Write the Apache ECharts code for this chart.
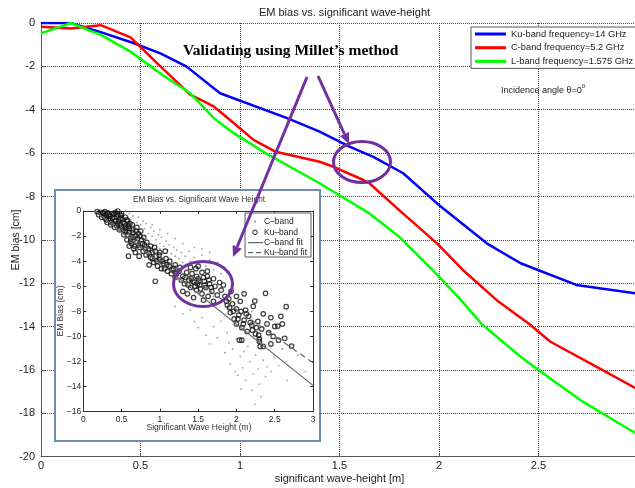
<!DOCTYPE html>
<html><head><meta charset="utf-8">
<script src="https://cdn.jsdelivr.net/npm/echarts@6/dist/echarts.min.js"></script>
<style>html,body{margin:0;padding:0;background:#fff}#c{width:635px;height:488px}</style>
</head><body><div id="c"></div>
<script>
// ---- Main chart data ----
const xTickValues = [0, 0.5, 1, 1.5, 2, 2.5, 3];
const yTickValues = [0, -2, -4, -6, -8, -10, -12, -14, -16, -18, -20];
const seriesNames = ['Ku-band frequency=14 GHz', 'C-band frequency=5.2 GHz', 'L-band frequency=1.575 GHz'];
const kuBand = [[0,0],[0.15,0],[0.3,-0.42],[0.46,-0.91],[0.6,-1.4],[0.73,-2.0],[0.9,-3.24],[1.24,-4.4],[1.4,-5.01],[1.55,-5.7],[1.67,-6.17],[1.82,-6.93],[1.99,-8.32],[2.24,-10.16],[2.41,-11.08],[2.69,-12.08],[2.99,-12.47]];
const cBand = [[0,-0.17],[0.15,-0.25],[0.3,-0.1],[0.45,-0.66],[0.6,-2.0],[0.75,-3.3],[0.87,-3.86],[0.95,-4.47],[1.07,-5.4],[1.18,-5.94],[1.4,-6.4],[1.47,-6.63],[1.62,-7.24],[1.65,-7.39],[1.8,-8.63],[1.99,-10.16],[2.12,-11.39],[2.29,-12.78],[2.46,-13.93],[2.56,-14.7],[2.79,-15.85],[2.99,-16.85]];
const lBand = [[0,-0.48],[0.15,0],[0.3,-0.55],[0.45,-1.32],[0.61,-2.4],[0.75,-3.24],[0.87,-4.4],[0.97,-5.09],[1.13,-6.01],[1.4,-7.39],[1.65,-8.78],[1.8,-9.86],[2.0,-11.7],[2.11,-12.78],[2.22,-13.93],[2.41,-15.39],[2.5,-16.0],[2.71,-17.39],[2.99,-18.93]];

// ---- Inset chart data ----
const insetXTicks = [0, 0.5, 1, 1.5, 2, 2.5, 3];
const insetYTicks = [0, -2, -4, -6, -8, -10, -12, -14, -16];
const insetNames = ['C\u2013band', 'Ku\u2013band', 'C\u2013band fit', 'Ku\u2013band fit'];
const kuScatter = [
[0.18,-0.05],[0.22,-0.1],[0.25,-0.2],[0.28,-0.05],[0.3,-0.3],[0.32,-0.15],[0.35,-0.4],[0.33,-0.6],[0.38,-0.2],[0.4,-0.5],[0.42,-0.8],[0.37,-0.9],[0.45,-0.3],[0.45,-1.0],[0.48,-0.6],[0.5,-1.3],[0.47,-1.5],[0.52,-0.9],[0.55,-0.5],[0.42,-0.1],[0.27,-0.4],[0.3,-0.7],[0.36,-1.1],[0.41,-1.3],[0.5,-0.2],[0.55,-1.2],[0.58,-0.8],[0.45,0],
[0.2,-0.3],[0.24,-0.5],[0.26,-0.15],[0.29,-0.55],[0.31,-0.9],[0.34,-0.3],[0.35,-0.75],[0.38,-0.55],[0.39,-1.0],[0.4,-0.25],[0.43,-0.45],[0.44,-1.2],[0.46,-0.8],[0.48,-1.1],[0.49,-0.35],[0.51,-0.65],[0.52,-1.5],[0.54,-1.0],[0.56,-1.4],[0.57,-0.7],
[0.55,-1.6],[0.58,-1.9],[0.6,-1.4],[0.62,-2.2],[0.65,-1.7],[0.63,-2.6],[0.68,-2.0],[0.7,-2.5],[0.66,-3.0],[0.72,-1.8],[0.74,-2.9],[0.76,-2.3],[0.78,-3.2],[0.6,-2.8],[0.57,-2.3],[0.53,-1.9],[0.7,-1.3],[0.75,-1.6],[0.8,-2.7],[0.82,-3.5],[0.68,-3.3],[0.64,-1.1],[0.59,-1.2],[0.73,-3.6],[0.59,-3.6],[0.94,-5.6],
[0.6,-1.7],[0.61,-1.0],[0.62,-2.4],[0.64,-1.5],[0.65,-2.1],[0.67,-2.8],[0.69,-1.6],[0.71,-2.2],[0.72,-2.7],[0.74,-2.0],[0.77,-2.6],[0.79,-2.1],[0.81,-3.0],[0.83,-2.5],[0.86,-3.4],[0.88,-2.8],
[0.85,-3.0],[0.88,-3.7],[0.9,-3.3],[0.92,-4.1],[0.95,-3.6],[0.97,-4.4],[1.0,-3.9],[1.02,-4.6],[1.05,-4.2],[1.08,-3.8],[1.1,-4.8],[1.12,-4.4],[1.15,-5.0],[1.18,-4.6],[0.86,-4.3],[0.93,-2.9],[1.0,-3.3],[1.2,-5.3],[1.07,-3.2],
[0.9,-3.8],[0.94,-3.2],[0.96,-4.0],[0.99,-3.5],[1.03,-4.0],[1.06,-4.6],[1.09,-4.3],[1.13,-4.0],[1.16,-4.7],[1.2,-4.3],[1.22,-5.0],[1.26,-4.5],
[1.25,-4.8],[1.3,-5.2],[1.32,-5.8],[1.35,-4.9],[1.38,-5.5],[1.4,-6.1],[1.42,-5.0],[1.45,-5.7],[1.47,-4.6],[1.48,-6.3],[1.5,-5.4],[1.52,-5.9],[1.55,-4.9],[1.55,-6.6],[1.58,-5.6],[1.6,-6.1],[1.62,-5.2],[1.63,-6.8],[1.65,-5.8],[1.68,-6.4],[1.7,-5.4],[1.72,-6.0],[1.75,-6.7],[1.78,-5.7],[1.8,-6.3],[1.83,-5.9],[1.3,-6.4],[1.36,-6.6],[1.44,-6.9],[1.57,-7.1],[1.28,-5.5],[1.5,-4.4],[1.62,-4.8],[1.4,-4.5],[1.7,-7.2],[1.48,-5.2],
[1.33,-5.3],[1.37,-5.9],[1.41,-5.4],[1.46,-6.0],[1.51,-5.6],[1.53,-6.2],[1.57,-5.3],[1.59,-5.9],[1.64,-5.5],[1.67,-6.1],[1.43,-5.6],[1.49,-5.8],
[1.85,-6.8],[1.88,-7.5],[1.9,-7.0],[1.92,-8.1],[1.95,-7.4],[1.97,-8.6],[2.0,-7.8],[2.0,-9.0],[2.03,-8.3],[2.05,-7.2],[2.07,-9.3],[2.1,-8.7],[2.12,-7.9],[2.14,-9.6],[2.16,-8.4],[2.2,-9.1],[2.22,-7.6],[2.24,-7.18],[2.25,-9.8],[2.28,-8.8],[2.3,-10.2],[2.31,-10.8],[2.04,-10.3],[2.07,-10.3],[2.33,-9.4],[2.35,-8.2],[2.38,-6.56],[2.0,-6.8],[2.1,-6.6],[1.93,-6.4],
[1.87,-7.2],[1.91,-7.7],[1.96,-8.0],[2.02,-8.6],[2.06,-8.0],[2.09,-9.0],[2.13,-8.2],[2.18,-8.9],[2.21,-9.5],[2.26,-9.3],[2.29,-9.9],
[2.4,-9.0],[2.42,-9.7],[2.45,-8.5],[2.48,-10.0],[2.5,-9.2],[2.54,-9.17],[2.55,-10.3],[2.6,-9.0],[2.63,-10.15],[2.65,-7.63],[2.72,-10.77],[2.58,-8.4],[2.45,-10.6],[2.35,-10.8],[2.3,-10.4]
];
const cScatter = [
[0.3,0],[0.4,-0.1],[0.5,-0.3],[0.55,0.0],[0.6,-0.2],[0.62,-0.7],[0.65,-0.4],[0.7,-0.9],[0.72,-0.5],[0.75,-1.1],[0.78,-0.8],[0.8,-1.4],[0.82,-1.0],[0.85,-1.8],[0.88,-1.3],[0.9,-2.0],[0.92,-1.6],[0.95,-2.3],[0.98,-1.9],[1.0,-2.6],[1.02,-2.1],[1.05,-2.8],[1.08,-2.4],[1.1,-3.1],[1.12,-2.7],[1.15,-3.4],[1.18,-2.9],[1.2,-3.6],[1.22,-3.1],[1.25,-3.8],[1.28,-3.3],[1.3,-4.1],[1.33,-3.6],[1.35,-4.3],[1.38,-3.2],[1.4,-4.0],[1.45,-3.7],[1.5,-4.2],[1.55,-3.5],[1.6,-4.4],[1.65,-3.9],[1.7,-4.7],[1.75,-4.1],[1.8,-5.0],[1.85,-4.5],[1.45,-2.9],[1.3,-2.6],[1.2,-2.2],[1.55,-3.0],[1.65,-3.3],[0.9,-1.1],[1.0,-1.5],[1.1,-1.8],
[0.5,-1.5],[0.7,-2.2],[0.9,-3.0],[1.1,-3.9],[1.3,-5.0],[1.5,-6.0],[1.7,-6.8],[1.9,-7.8],[0.8,-2.0],[1.0,-3.0],[1.2,-4.4],[1.4,-5.3],[1.6,-5.9],[1.8,-6.1],
[1.2,-7.6],[1.3,-8.2],[1.4,-7.9],[1.45,-8.8],[1.5,-9.3],[1.55,-8.5],[1.6,-9.9],[1.65,-10.6],[1.7,-9.2],[1.75,-10.1],[1.8,-8.8],[1.85,-11.3],[1.88,-9.7],[1.9,-10.5],[1.92,-12.2],[1.95,-11.0],[1.98,-12.8],[2.0,-10.2],[2.02,-13.1],[2.05,-11.6],[2.08,-12.5],[2.1,-11.2],[2.12,-13.5],[2.15,-10.8],[2.18,-12.0],[2.2,-14.3],[2.22,-13.0],[2.24,-15.4],[2.06,-14.2],[2.25,-11.5],[2.28,-12.6],[2.3,-13.8],[2.32,-14.8],[2.35,-11.9],[2.38,-13.2],[2.4,-12.4],[2.45,-12.8],[2.5,-11.7],[2.55,-12.3],[2.6,-11.0],[2.65,-12.0],[2.66,-13.5],[2.7,-10.8],[2.8,-11.5],[2.9,-12.8],[1.9,-7.2],[2.0,-8.5],[2.1,-9.5],[2.2,-8.0],[2.3,-9.0]
];
const cFit = [[0.15,0],[3,-13.9]];
const kuFit = [[0.15,0],[3,-12.1]];

const F = 'Liberation Sans, Arial, sans-serif';
const TXT = '#222';
const PURPLE = '#7030a0';

function insetAxisCommon(extra) {
  return Object.assign({
    type: 'value', gridIndex: 1, z: 10,
    axisLine: { show: true, onZero: false, lineStyle: { color: '#333', width: 1 } },
    axisTick: { show: true, inside: true, length: 3, lineStyle: { color: '#333' } },
    splitLine: { show: false }
  }, extra);
}

const chart = echarts.init(document.getElementById('c'));
chart.setOption({
  backgroundColor: '#fff',
  animation: false,
  title: {
    text: 'EM bias vs. significant wave-height', left: 339.5, textAlign: 'center', top: 2,
    textStyle: { fontSize: 11, fontWeight: 'normal', color: TXT, fontFamily: F }
  },
  legend: [{
    data: seriesNames, left: 471, top: 27, orient: 'vertical', icon: 'rect',
    itemWidth: 31, itemHeight: 3, itemGap: 1.7, padding: [1, 5, 1, 4],
    backgroundColor: '#fff', borderColor: '#555', borderWidth: 1, selectedMode: false,
    textStyle: { fontSize: 9.3, color: TXT, fontFamily: F, lineHeight: 12 }
  }],
  grid: [
    { left: 41, top: 23, width: 597, height: 433.7, outerBoundsMode: 'none', containLabel: false },
    { left: 83.3, top: 211, width: 229.7, height: 200.7, outerBoundsMode: 'none', containLabel: false }
  ],
  xAxis: [
    {
      type: 'value', gridIndex: 0, min: xTickValues[0], max: xTickValues[xTickValues.length - 1], interval: 0.5,
      name: 'significant wave-height [m]', nameLocation: 'middle', nameGap: 17, nameMoveOverlap: false,
      nameTextStyle: { fontSize: 11, color: TXT, fontFamily: F },
      axisLine: { onZero: false, lineStyle: { color: '#555' } },
      axisTick: { inside: true, length: 4, lineStyle: { color: '#555' } },
      axisLabel: { showMaxLabel: false, margin: 4, fontSize: 11, color: TXT, fontFamily: F },
      splitLine: { show: true, lineStyle: { type: 'dotted', color: '#444', width: 1 } }
    },
    insetAxisCommon({
      min: insetXTicks[0], max: insetXTicks[insetXTicks.length - 1], interval: 0.5, position: 'bottom',
      axisLabel: { margin: 3, fontSize: 8.5, color: TXT, fontFamily: F }
    }),
    insetAxisCommon({
      min: insetXTicks[0], max: insetXTicks[insetXTicks.length - 1], interval: 0.5, position: 'top',
      axisLabel: { show: false }
    })
  ],
  yAxis: [
    {
      type: 'value', gridIndex: 0, min: yTickValues[yTickValues.length - 1], max: yTickValues[0], interval: 2,
      name: 'EM bias [cm]', nameLocation: 'middle', nameGap: 19, nameMoveOverlap: false,
      nameTextStyle: { fontSize: 10.5, color: TXT, fontFamily: F },
      axisLine: { show: true, onZero: false, lineStyle: { color: '#555' } },
      axisTick: { show: true, inside: true, length: 4, lineStyle: { color: '#555' } },
      axisLabel: { margin: 6, fontSize: 11, color: TXT, fontFamily: F },
      splitLine: { show: true, lineStyle: { type: 'dotted', color: '#444', width: 1 } }
    },
    insetAxisCommon({
      min: insetYTicks[insetYTicks.length - 1], max: insetYTicks[0], interval: 2, position: 'left',
      axisLabel: { margin: 2, fontSize: 8.5, color: TXT, fontFamily: F,
        formatter: v => String(v).replace('-', '\u2212') }
    }),
    insetAxisCommon({
      min: insetYTicks[insetYTicks.length - 1], max: insetYTicks[0], interval: 2, position: 'right',
      axisLabel: { show: false }
    })
  ],
  series: [
    { name: seriesNames[0], type: 'line', xAxisIndex: 0, yAxisIndex: 0, data: kuBand, symbol: 'none',
      lineStyle: { color: '#0000ff', width: 2.5 }, itemStyle: { color: '#0000ff' } },
    { name: seriesNames[1], type: 'line', xAxisIndex: 0, yAxisIndex: 0, data: cBand, symbol: 'none',
      lineStyle: { color: '#ff0000', width: 2.5 }, itemStyle: { color: '#ff0000' } },
    { name: seriesNames[2], type: 'line', xAxisIndex: 0, yAxisIndex: 0, data: lBand, symbol: 'none',
      lineStyle: { color: '#00ff00', width: 2.5 }, itemStyle: { color: '#00ff00' } },
    { name: insetNames[0], type: 'scatter', xAxisIndex: 1, yAxisIndex: 1, data: cScatter, z: 11,
      symbol: 'circle', symbolSize: 1.8, itemStyle: { color: '#888' } },
    { name: insetNames[1], type: 'scatter', xAxisIndex: 1, yAxisIndex: 1, data: kuScatter, z: 11,
      symbol: 'circle', symbolSize: 4.5,
      itemStyle: { color: 'rgba(0,0,0,0)', borderColor: '#111', borderWidth: 1.2 } },
    { name: insetNames[2], type: 'line', xAxisIndex: 1, yAxisIndex: 1, data: cFit, z: 12, symbol: 'none',
      lineStyle: { color: '#666', width: 1.2 } },
    { name: insetNames[3], type: 'line', xAxisIndex: 1, yAxisIndex: 1, data: kuFit, z: 12, symbol: 'none',
      lineStyle: { color: '#666', width: 1.2, type: [6, 4] } }
  ],
  graphic: [
    { type: 'rect', z: 5, shape: { x: 55, y: 190, width: 265, height: 251 },
      style: { fill: '#fff', stroke: '#6f8cb5', lineWidth: 2 } },
    { type: 'text', z: 13, x: 199, y: 200,
      style: { text: 'EM Bias vs. Significant Wave Height', fontSize: 8.2, fontFamily: F, fill: '#333', align: 'center', verticalAlign: 'middle' } },
    { type: 'text', z: 13, x: 199, y: 428,
      style: { text: 'Significant Wave Height (m)', fontSize: 8.5, fontFamily: F, fill: '#333', align: 'center', verticalAlign: 'middle' } },
    { type: 'text', z: 13, x: 61, y: 311, rotation: Math.PI / 2,
      style: { text: 'EM Bias (cm)', fontSize: 8.5, fontFamily: F, fill: '#333', align: 'center', verticalAlign: 'middle' } },
    { type: 'rect', z: 13, shape: { x: 245, y: 213, width: 66, height: 44 },
      style: { fill: '#fff', stroke: '#333', lineWidth: 0.8 } },
    { type: 'circle', z: 14, shape: { cx: 255, cy: 221.5, r: 0.9 }, style: { fill: '#888' } },
    { type: 'circle', z: 14, shape: { cx: 255, cy: 232.3, r: 2.3 }, style: { fill: 'none', stroke: '#222', lineWidth: 1 } },
    { type: 'line', z: 14, shape: { x1: 248, y1: 242.7, x2: 263, y2: 242.7 }, style: { stroke: '#444', lineWidth: 1 } },
    { type: 'line', z: 14, shape: { x1: 248, y1: 252.7, x2: 263, y2: 252.7 }, style: { stroke: '#444', lineWidth: 1, lineDash: [5, 3] } },
    { type: 'text', z: 14, x: 264, y: 221.5, style: { text: insetNames[0], fontSize: 8.5, fontFamily: F, fill: '#222', verticalAlign: 'middle' } },
    { type: 'text', z: 14, x: 264, y: 232.3, style: { text: insetNames[1], fontSize: 8.5, fontFamily: F, fill: '#222', verticalAlign: 'middle' } },
    { type: 'text', z: 14, x: 264, y: 242.7, style: { text: insetNames[2], fontSize: 8.5, fontFamily: F, fill: '#222', verticalAlign: 'middle' } },
    { type: 'text', z: 14, x: 264, y: 252.7, style: { text: insetNames[3], fontSize: 8.5, fontFamily: F, fill: '#222', verticalAlign: 'middle' } },
    { type: 'text', z: 13, x: 501, y: 83,
      style: { text: '{a|Incidence angle \u03b8=0}{b|0}', fontFamily: F, fill: '#222',
        rich: { a: { fontSize: 9, fontFamily: F, fill: '#222', lineHeight: 12, verticalAlign: 'bottom' },
                b: { fontSize: 6, fontFamily: F, fill: '#222', lineHeight: 12, verticalAlign: 'top' } } } },
    { type: 'text', z: 20, x: 183, y: 51,
      style: { text: 'Validating using Millet\u2019s method', fontSize: 15.5, fontWeight: 'bold',
        fontFamily: 'Liberation Serif, Times New Roman, serif', fill: '#000', verticalAlign: 'middle' } },
    { type: 'line', z: 20, shape: { x1: 318, y1: 76, x2: 344.4, y2: 134 }, style: { stroke: PURPLE, lineWidth: 3 } },
    { type: 'polygon', z: 20, shape: { points: [[349, 144], [339.9, 136.1], [349.0, 131.9]] }, style: { fill: PURPLE } },
    { type: 'line', z: 20, shape: { x1: 307, y1: 77, x2: 237.2, y2: 246.8 }, style: { stroke: PURPLE, lineWidth: 3 } },
    { type: 'polygon', z: 20, shape: { points: [[233, 257], [232.6, 244.9], [241.8, 248.7]] }, style: { fill: PURPLE } },
    { type: 'ellipse', z: 20, shape: { cx: 362, cy: 162, rx: 28.5, ry: 20.5 }, style: { fill: 'none', stroke: PURPLE, lineWidth: 3 } },
    { type: 'ellipse', z: 20, shape: { cx: 203, cy: 284, rx: 29.5, ry: 22.5 }, style: { fill: 'none', stroke: PURPLE, lineWidth: 3 } }
  ]
});
</script>
</body></html>
